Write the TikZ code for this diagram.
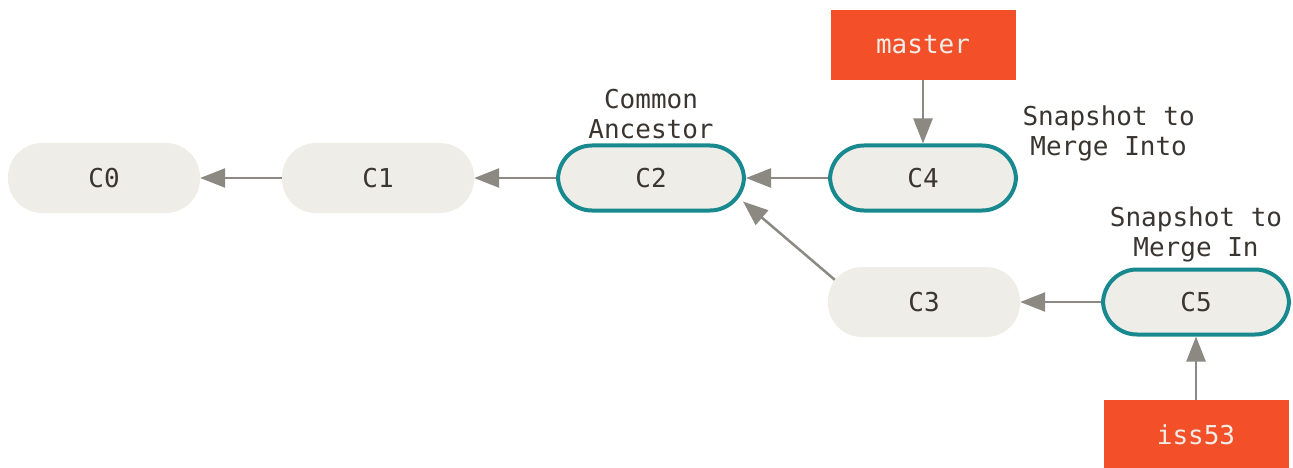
\documentclass[tikz,border=0pt]{standalone}
\usepackage{fontspec}
\setmonofont{DejaVu Sans Mono}
\usetikzlibrary{arrows.meta}
\definecolor{commitfill}{HTML}{EEEDE7}
\definecolor{headteal}{HTML}{18898F}
\definecolor{branchred}{HTML}{F34F29}
\definecolor{linkgray}{HTML}{8C8882}
\definecolor{textdark}{HTML}{3A3530}
\tikzset{
  commit/.style={rectangle, rounded corners=34pt, fill=commitfill, minimum width=192pt,
    minimum height=70pt, text=textdark, font=\ttfamily\fontsize{26}{31}\selectfont},
  snapshot/.style={commit, draw=headteal, line width=4pt, minimum width=186pt, minimum height=65pt},
  branch/.style={rectangle, fill=branchred, minimum width=185pt, minimum height=70pt,
    text=commitfill, font=\ttfamily\fontsize{26}{31}\selectfont},
  note/.style={align=center, text=textdark, font=\ttfamily\fontsize{26}{30}\selectfont},
  link/.style={draw=linkgray, line width=2.5pt, -{Triangle[length=25pt,width=19pt]}}
}
\begin{document}
\begin{tikzpicture}[x=1pt,y=-1pt]
			\useasboundingbox (0,0) rectangle (1293,468);
			% commits
			\node[commit] (c0) at (104,178) {C0};
			\node[commit] (c1) at (378,178) {C1};
			\node[snapshot] (c2) at (651,178) {C2};
			\node[snapshot] (c4) at (923,178) {C4};
			\node[commit] (c3) at (924,302) {C3};
			\node[snapshot] (c5) at (1196,302) {C5};
			% branches
			\node[branch] (master) at (923,45) {master};
			\node[branch] (iss53) at (1196,435) {iss53};
			% labels
			\node[note] (ancestor) at (651,114) {Common\\Ancestor};
			\node[note, anchor=west] (into) at (1019,133) {Snapshot to\\Merge Into};
			\node[note] (mergein) at (1196,234) {Snapshot to\\Merge In};
			% parents
			\draw[link] (c1) -- (c0);
			\draw[link] (c2) -- (c1);
			\draw[link] (c4) -- (c2);
			\draw[link] (c3.north west) ++(7,13) coordinate (c3out) -- ([shift={(-3,-11)}]c2.south east);
			\draw[link] (c5) -- (c3);
			\draw[link] (master) -- (c4);
			\draw[link] (iss53) -- (c5);
		\end{tikzpicture}
\end{document}
